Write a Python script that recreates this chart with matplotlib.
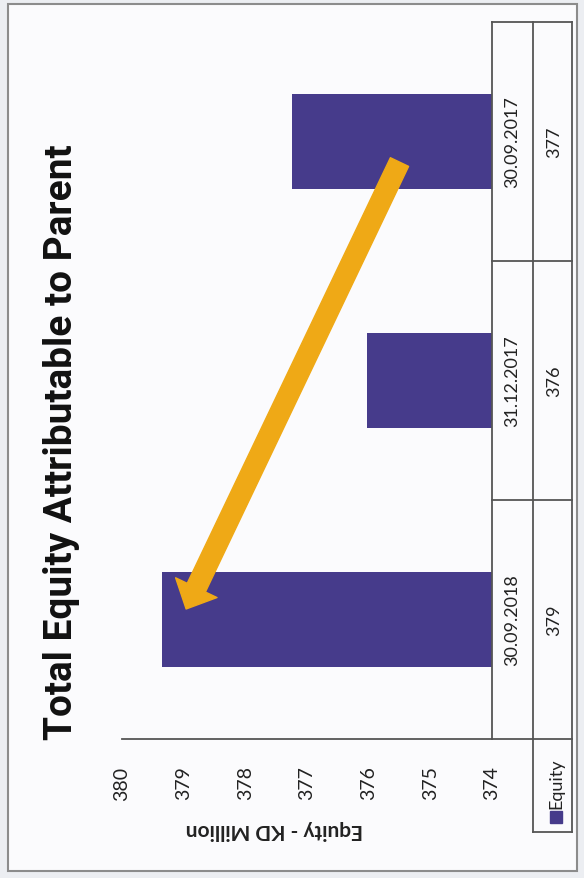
import numpy as np
import matplotlib
matplotlib.use("Agg")
from matplotlib import pyplot as plt
from matplotlib.patches import Rectangle
from matplotlib.lines import Line2D
import matplotlib.transforms as mtransforms

# data (chart is drawn turned on its side, bottom category first)
categories = ["30.09.2018", "31.12.2017", "30.09.2017"]
equity = [379.35, 376.03, 377.24]
table_values = ["379", "376", "377"]
ticks = [374, 375, 376, 377, 378, 379, 380]

bar_color = "#463b8b"
arrow_color = "#efa916"
body_font = ["Lato", "DejaVu Sans"]

fig = plt.figure(figsize=(5.84, 8.79), dpi=100, facecolor="#eceef2")
W, H = 584.0, 879.0

# page frame
fig.patches.append(Rectangle((8 / W, 1 - 872 / H), 569 / W, 867 / H, transform=fig.transFigure,
                             facecolor="#fbfbfd", edgecolor="#8c8c8c", lw=1.5, zorder=-5))

ax = fig.add_axes([122 / W, 1 - 740 / H, 370 / W, 717 / H])
ax.set_facecolor("none")

y = np.arange(len(categories))
ax.barh(y, np.array(equity) - ticks[0], left=ticks[0], height=0.4, color=bar_color, zorder=2)

ax.set_xlim(ticks[-1], ticks[0])
ax.set_ylim(-0.5, len(categories) - 0.5)
ax.set_xticks(ticks)
ax.set_xticklabels([str(t) for t in ticks], rotation=90, family=body_font, fontsize=14)
ax.tick_params(axis="x", length=0, pad=19, colors="#222222")
ax.set_yticks([])
for s in ["top", "left", "right"]:
    ax.spines[s].set_visible(False)
ax.spines["bottom"].set_color("#555555")
ax.spines["bottom"].set_linewidth(1.3)

ax.set_xlabel("Equity - KD Million", rotation=180, family=body_font, fontsize=15,
              fontweight="bold", color="#222222", va="center")
ax.xaxis.set_label_coords(0.413, -0.125)

# data table on the right side
tb = mtransforms.blended_transform_factory(ax.transAxes, ax.transData)
x0, x1, x2 = 1.0, 1.111, 1.216
lc = "#555555"
for xx in [x0, x1, x2]:
    ax.add_line(Line2D([xx, xx], [-0.5, len(categories) - 0.5], transform=tb, color=lc, lw=1.3, clip_on=False))
for yy in np.arange(len(categories) + 1) - 0.5:
    ax.add_line(Line2D([x0, x2], [yy, yy], transform=tb, color=lc, lw=1.3, clip_on=False))
leg_bottom = -0.1297
for xx in [x1, x2]:
    ax.add_line(Line2D([xx, xx], [0, leg_bottom], transform=ax.transAxes, color=lc, lw=1.3, clip_on=False))
ax.add_line(Line2D([x1, x2], [leg_bottom, leg_bottom], transform=ax.transAxes, color=lc, lw=1.3, clip_on=False))

for yi, cat, val in zip(y, categories, table_values):
    ax.text((x0 + x1) / 2, yi, cat, transform=tb, rotation=90, ha="center", va="center",
            family=body_font, fontsize=13, color="#222222")
    ax.text((x1 + x2) / 2 + 0.005, yi, val, transform=tb, rotation=90, ha="center", va="center",
            family=body_font, fontsize=13, color="#222222")

ax.plot([(x1 + x2) / 2 + 0.01], [-0.109], marker="s", ms=8, color=bar_color,
        transform=ax.transAxes, clip_on=False)
ax.text((x1 + x2) / 2 + 0.01, -0.096, "Equity", transform=ax.transAxes, rotation=90,
        ha="center", va="bottom", family=body_font, fontsize=13, color="#222222")

# trend arrow from the oldest bar to the latest
ax.annotate("", xy=(378.96, 0.044), xytext=(375.5, 1.914),
            arrowprops=dict(arrowstyle="simple,head_length=1.7,head_width=3.3,tail_width=1.45",
                            mutation_scale=10, color=arrow_color, shrinkA=0, shrinkB=0),
            zorder=5)

fig.text(62 / W, 1 - 442 / H, "Total Equity Attributable to Parent", rotation=90,
         ha="center", va="center", family=["Roboto", "DejaVu Sans"],
         fontsize=28, fontweight="bold", color="#111111")

fig.savefig("out.png", dpi=100, facecolor=fig.get_facecolor())
